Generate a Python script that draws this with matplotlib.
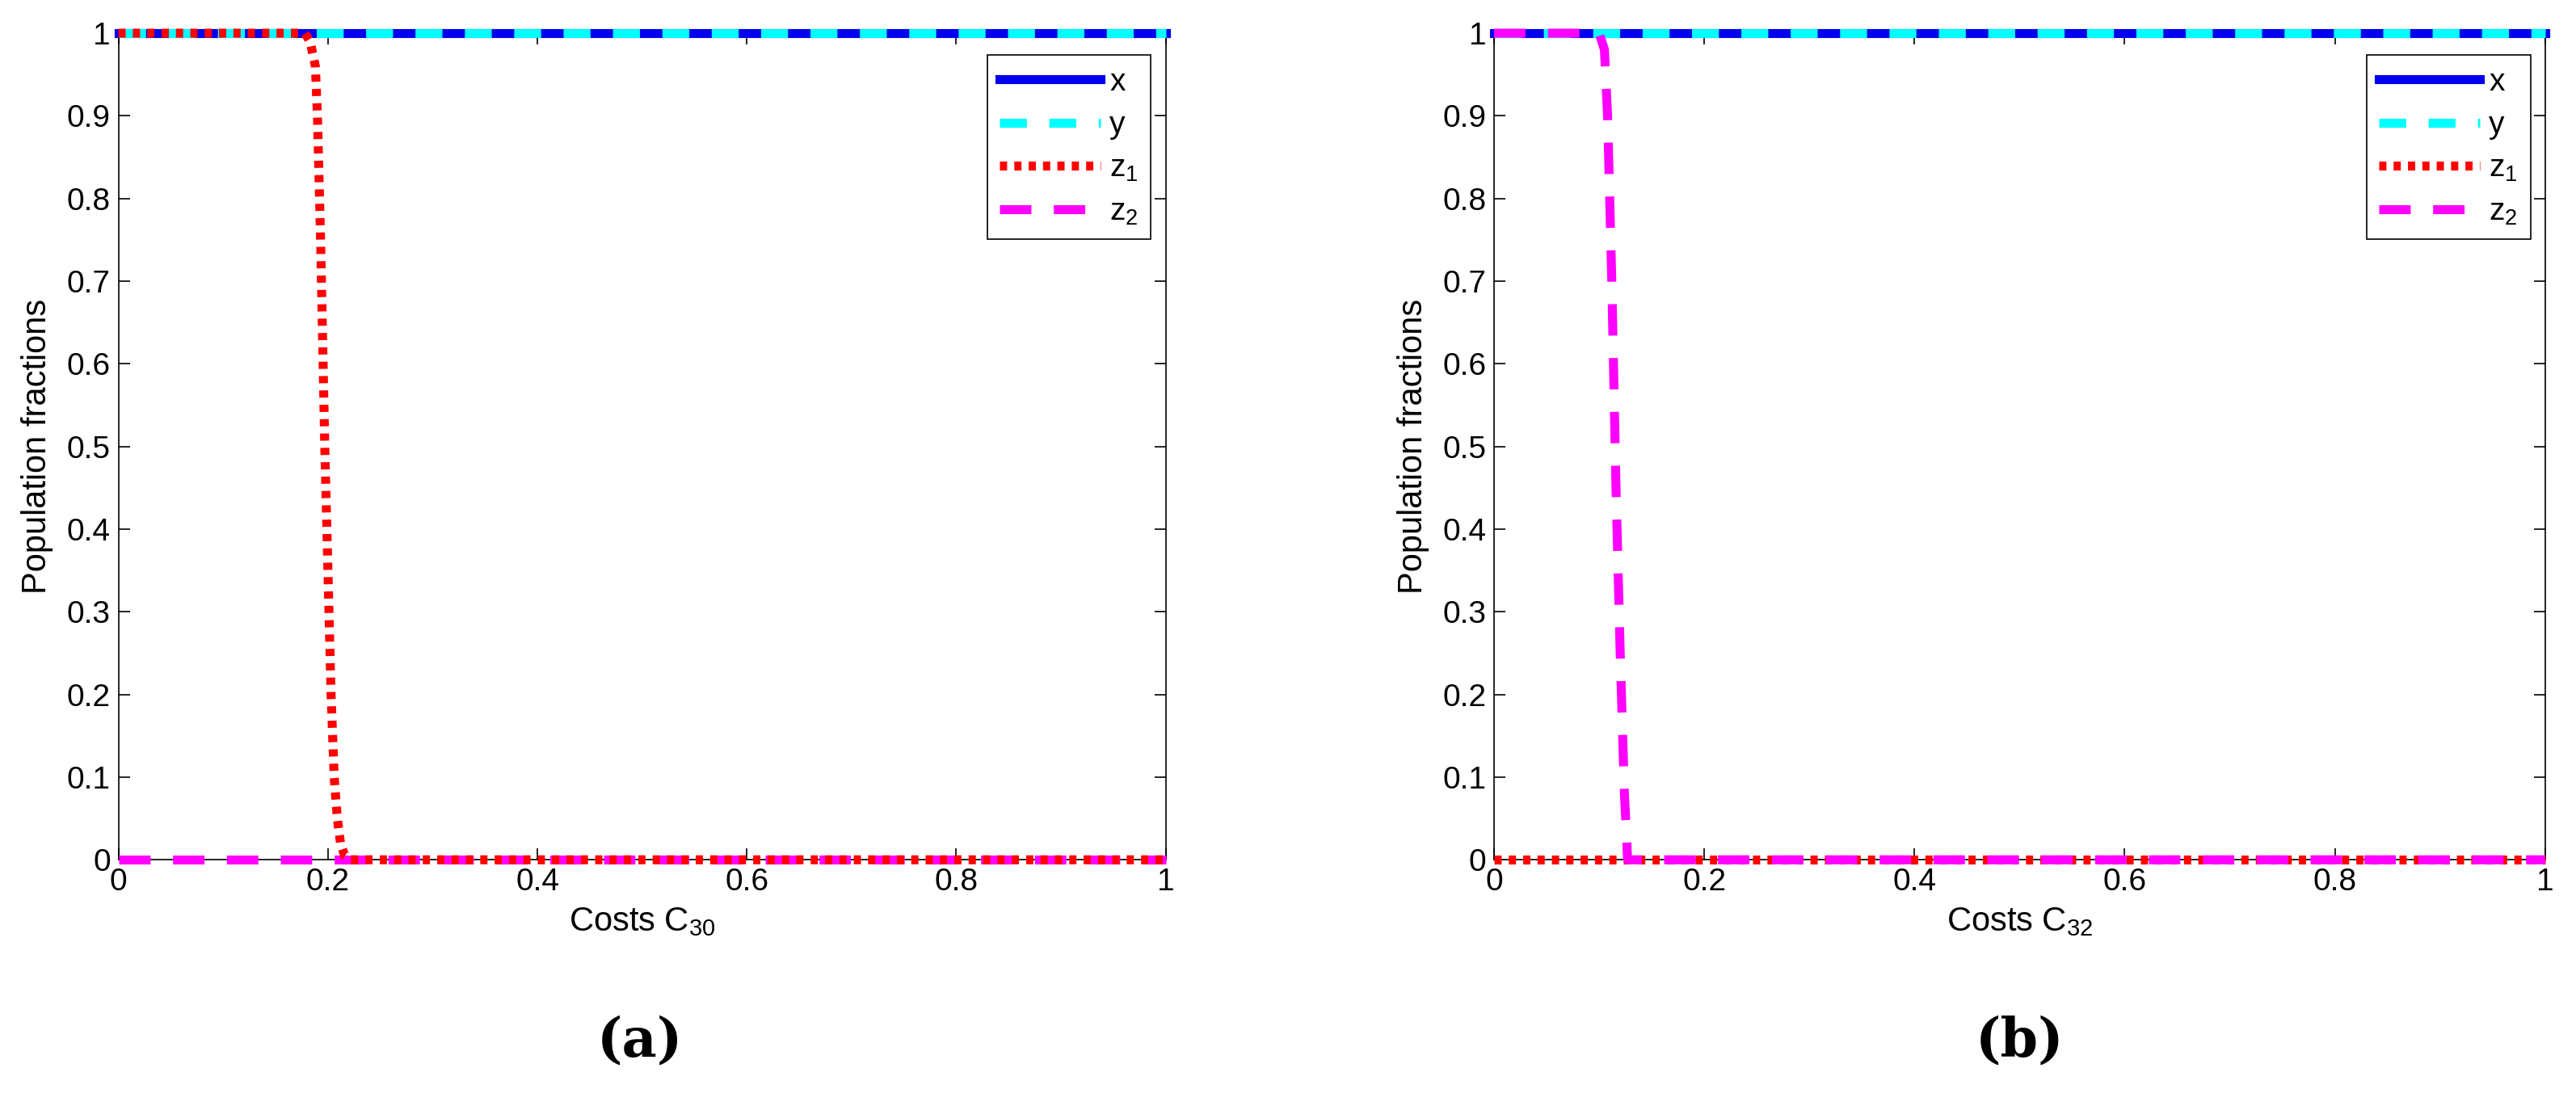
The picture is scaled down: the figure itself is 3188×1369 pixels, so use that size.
import matplotlib
matplotlib.use("Agg")
import matplotlib.pyplot as plt

plt.rcParams['font.family'] = ['Liberation Sans', 'DejaVu Sans']
plt.rcParams['mathtext.fontset'] = 'custom'
plt.rcParams['mathtext.rm'] = 'Liberation Sans'

xa_full = [0, 1]
ones = [1, 1]
zeros = [0, 0]
z1a_x = [0, 0.17, 0.178, 0.183, 0.188, 0.19, 0.193, 0.197, 0.2, 0.203, 0.206, 0.209, 0.212, 0.216, 0.222, 1]
z1a_y = [1, 1, 1, 0.99, 0.96, 0.9, 0.75, 0.5, 0.35, 0.2, 0.1, 0.05, 0.02, 0.005, 0, 0]
z2b_x = [0, 0.1, 0.105, 0.108, 0.112, 0.116, 0.12, 0.124, 0.126, 0.127, 1]
z2b_y = [1, 1, 0.98, 0.9, 0.7, 0.45, 0.25, 0.08, 0.03, 0, 0]
xticks = [0, 0.2, 0.4, 0.6, 0.8, 1]
xticklabels = ['0', '0.2', '0.4', '0.6', '0.8', '1']
yticks = [i / 10 for i in range(11)]
yticklabels = ['0'] + [f'{v:.1f}' for v in yticks[1:-1]] + ['1']

fig = plt.figure(figsize=(15.94, 6.845), dpi=200)
axA = fig.add_axes([0.046, 0.2226, 0.4065, 0.7474])
axB = fig.add_axes([0.580, 0.2226, 0.408, 0.7474])

def style(ax, xlabel):
    ax.set_xlim(0, 1)
    ax.set_ylim(0, 1)
    ax.set_xticks(xticks)
    ax.set_xticklabels(xticklabels)
    ax.set_yticks(yticks)
    ax.set_yticklabels(yticklabels)
    ax.tick_params(direction='in', top=True, right=True, labelsize=14, length=5, width=0.6)
    for s in ax.spines.values():
        s.set_linewidth(0.6)
    ax.set_xlabel(xlabel, fontsize=15, labelpad=4)
    ax.set_ylabel('Population fractions', fontsize=15, labelpad=6)
    leg = ax.legend(loc='upper right', bbox_to_anchor=(0.995, 0.985), fontsize=14,
                    fancybox=False, edgecolor='black', framealpha=1, handlelength=3.2,
                    labelspacing=0.45, borderaxespad=0.3, handletextpad=0.3)
    leg.get_frame().set_linewidth(0.6)

# (a)
axA.plot(xa_full, ones, color='#0000ee', lw=4, label='x', clip_on=False, zorder=3)
axA.plot(xa_full, ones, color='cyan', lw=4, ls=(0, (3, 2.5)), label='y', clip_on=False, zorder=4)
axA.plot(z1a_x, z1a_y, color='red', lw=4, ls=(0, (0.8, 0.8)), label='$\\mathregular{z_1}$', clip_on=False, zorder=5)
axA.plot(xa_full, zeros, color='magenta', lw=4, ls=(0, (3.5, 2.5)), label='$\\mathregular{z_2}$', clip_on=False, zorder=4)
style(axA, 'Costs $\\mathregular{C_{30}}$')

# (b)
axB.plot(xa_full, ones, color='#0000ee', lw=4, label='x', clip_on=False, zorder=3)
axB.plot(xa_full, ones, color='cyan', lw=4, ls=(0, (3, 2.5)), label='y', clip_on=False, zorder=4)
axB.plot(xa_full, zeros, color='red', lw=4, ls=(0, (0.8, 0.8)), label='$\\mathregular{z_1}$', clip_on=False, zorder=4)
axB.plot(z2b_x, z2b_y, color='magenta', lw=4, ls=(0, (3.5, 2.5)), label='$\\mathregular{z_2}$', clip_on=False, zorder=5)
style(axB, 'Costs $\\mathregular{C_{32}}$')

fig.text(0.2485, 0.045, '(a)', ha='center', fontsize=24, fontweight='bold', family='DejaVu Serif')
fig.text(0.784, 0.045, '(b)', ha='center', fontsize=24, fontweight='bold', family='DejaVu Serif')

fig.savefig('out.png', dpi=200)
